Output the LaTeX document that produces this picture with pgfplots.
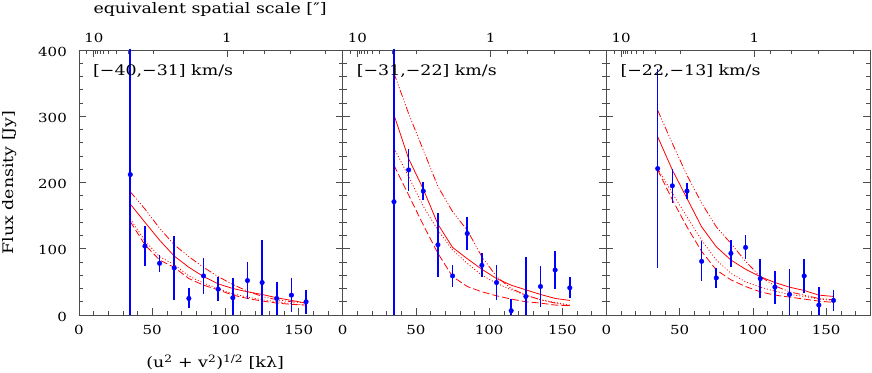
\documentclass[border=0pt]{standalone}
\usepackage{fontspec}
\setmainfont{DejaVu Serif}[FakeStretch=1.2]
\usepackage{pgfplots}
\usepackage{pgfplotstable}
\pgfplotsset{compat=1.18}
\newcommand\labsize{\fontsize{14.5bp}{17bp}\selectfont}
\newcommand\tklab[1]{\mbox{\fontsize{12.5bp}{14bp}\selectfont #1}}

\pgfplotstableread{
x y e
35 212 250
45 104 30
55 78 12.5
65 71 48
75 25 15
85 59 27
95 39 18
105 26 30
115 52 28
125 49 64
135 25 25
145 30 26
155 20 18
}\datA
\pgfplotstableread{
x s u d l
35 167.5 186 145 141
45 140 160 112 106
55 113 131 88 83
65 89 106 76 72
75 72 88 59 55
85 58 72 48 45
95 47 58 40 38
105 40 46 32 30
115 35 36 27 25
125 31 28 23 21
135 26 23 20 18
145 22 20 17 16
155 18 18 15 15
}\modA
\pgfplotstableread{
x y e
35 171 250
45 219 32
55 187 13
65 106 48
75 59 17
85 123 25.5
95 75 18
105 49 27
115 6.5 18
125 28 60
135 43 31
145 68 29
155 41 16
}\datB
\pgfplotstableread{
x s u d l
35 302 365 252 226
45 236 304 209 181
55 190 249 164 136
65 137 194 128 93
75 102 156 98 58
85 85 128 78 43
95 69 88 60 35
105 55 58 48 29
115 45 40 38 24
125 38 30 30 20
135 31 23 23 18
145 25 18 19 15
155 22 14 15 14
}\modB
\pgfplotstableread{
x y e
35 221 150
45 195 26
55 187 12.5
65 81 30
75 56 15.6
85 93 20
95 102 18
105 55 29
115 42 25
125 31 39
135 59 26
145 15 28
155 22 15.6
}\datC
\pgfplotstableread{
x s u d l
35 269 309 221 219
45 219 259 184 174
55 176 211 148 133
65 133 169 113 96
75 103 133 83 68
85 83 108 63 53
95 69 81 50 43
105 58 58 42 35
115 49 44 36 30
125 42 35 31 27
135 37 30 28 24
145 30 25 24 21
155 28 23 22 19
}\modC

\tikzset{
  tlx/.style={anchor=center, yshift=-15bp, inner sep=0pt},
  tly/.style={anchor=east, xshift=-12bp, yshift=-1.5bp, inner sep=0pt},
  tlt/.style={anchor=center, yshift=12bp, inner sep=0pt},
}
\pgfplotsset{
  base/.style={scale only axis, width=263.7bp, height=265bp,
    xmin=0, xmax=180, ymin=0, ymax=400, anchor=south west,
    tick align=inside,
    axis line style={black!70, line width=0.6pt},
    major tick style={black!70, line width=0.6pt},
    minor tick style={black!70, line width=0.6pt},
    major tick length=7bp, minor tick length=4bp},
  panel/.style={base,
    xtick={0,50,100,150}, minor xtick={10,20,...,170},
    xticklabels={}, yticklabels={},
    xtick pos=bottom,
    ytick={0,100,...,400}, minor ytick={20,40,...,380},
    ytick pos=both},
  topax/.style={base, clip=false,
    axis line style={draw=none},
    xtick pos=top, xticklabels={},
    xtick={10.1,101},
    minor xtick={5.05,11.22,12.63,14.43,16.83,20.2,25.25,33.67,50.5,112.2,126.25,144.3,168.3},
    ytick=\empty},
  sol/.style={red, line width=0.8pt},
  upp/.style={red, line width=0.8pt, dash pattern=on 7bp off 2bp on 1bp off 2bp on 1bp off 2bp on 1bp off 2bp},
  dot/.style={red, line width=0.8pt, dash pattern=on 1bp off 2bp},
  lds/.style={red, line width=0.8pt, dash pattern=on 7bp off 3bp},
  obs/.style={blue, mark=*, only marks, mark size=2.3pt,
    error bars/y dir=both, error bars/y explicit, error bars/error mark=none,
    error bars/error bar style={blue, line width=1.6pt}},
}

\begin{document}
\begin{tikzpicture}
% Panel 1
\begin{axis}[panel, at={(0bp,0bp)},
  ylabel={\labsize Flux density [Jy]},
  ylabel style={at={(axis description cs:-0.2617,0.5)}, anchor=center, rotate=0},
  xlabel={\labsize (u\textsuperscript{2} + v\textsuperscript{2})\textsuperscript{1/2} [kλ]},
  xlabel style={at={(axis description cs:0.516,-0.2)}, anchor=base}]
\addplot[sol] table[x=x,y=s]{\modA};
\addplot[upp] table[x=x,y=u]{\modA};
\addplot[dot] table[x=x,y=d]{\modA};
\addplot[lds] table[x=x,y=l]{\modA};
\addplot[obs] table[x=x,y=y,y error=e]{\datA};
\node[anchor=north west, inner sep=0pt, font=\labsize] at (rel axis cs:0.053,0.947) {[−40,−31] km/s};
\end{axis}
\begin{axis}[topax, at={(0bp,0bp)}]
\node[anchor=base, inner sep=0pt, font=\labsize] at (axis description cs:0.497,1.136) {equivalent spatial scale [″]};
\node[tlx] at (axis cs:0,0) {\tklab{0}};
\node[tlx] at (axis cs:50,0) {\tklab{50}};
\node[tlx] at (axis cs:100,0) {\tklab{100}};
\node[tlx] at (axis cs:150,0) {\tklab{150}};
\node[tly] at (axis cs:0,0) {\tklab{0}};
\node[tly] at (axis cs:0,100) {\tklab{100}};
\node[tly] at (axis cs:0,200) {\tklab{200}};
\node[tly] at (axis cs:0,300) {\tklab{300}};
\node[tly] at (axis cs:0,400) {\tklab{400}};
\node[tlt] at (axis cs:10.1,400) {\tklab{10}};
\node[tlt] at (axis cs:101,400) {\tklab{1}};
\end{axis}
% Panel 2
\begin{axis}[panel, at={(263.7bp,0bp)}]
\addplot[sol] table[x=x,y=s]{\modB};
\addplot[upp] table[x=x,y=u]{\modB};
\addplot[dot] table[x=x,y=d]{\modB};
\addplot[lds] table[x=x,y=l]{\modB};
\addplot[obs] table[x=x,y=y,y error=e]{\datB};
\node[anchor=north west, inner sep=0pt, font=\labsize] at (rel axis cs:0.053,0.947) {[−31,−22] km/s};
\end{axis}
\begin{axis}[topax, at={(263.7bp,0bp)}]
\node[tlx] at (axis cs:0,0) {\tklab{0}};
\node[tlx] at (axis cs:50,0) {\tklab{50}};
\node[tlx] at (axis cs:100,0) {\tklab{100}};
\node[tlx] at (axis cs:150,0) {\tklab{150}};
\node[tlt] at (axis cs:10.1,400) {\tklab{10}};
\node[tlt] at (axis cs:101,400) {\tklab{1}};
\end{axis}
% Panel 3
\begin{axis}[panel, at={(527.4bp,0bp)}]
\addplot[sol] table[x=x,y=s]{\modC};
\addplot[upp] table[x=x,y=u]{\modC};
\addplot[dot] table[x=x,y=d]{\modC};
\addplot[lds] table[x=x,y=l]{\modC};
\addplot[obs] table[x=x,y=y,y error=e]{\datC};
\node[anchor=north west, inner sep=0pt, font=\labsize] at (rel axis cs:0.053,0.947) {[−22,−13] km/s};
\end{axis}
\begin{axis}[topax, at={(527.4bp,0bp)}]
\node[tlx] at (axis cs:0,0) {\tklab{0}};
\node[tlx] at (axis cs:50,0) {\tklab{50}};
\node[tlx] at (axis cs:100,0) {\tklab{100}};
\node[tlx] at (axis cs:150,0) {\tklab{150}};
\node[tlt] at (axis cs:10.1,400) {\tklab{10}};
\node[tlt] at (axis cs:101,400) {\tklab{1}};
\end{axis}
\pgfresetboundingbox
\path[use as bounding box] (-79bp,-58bp) rectangle (793bp,315bp);
\end{tikzpicture}
\end{document}
